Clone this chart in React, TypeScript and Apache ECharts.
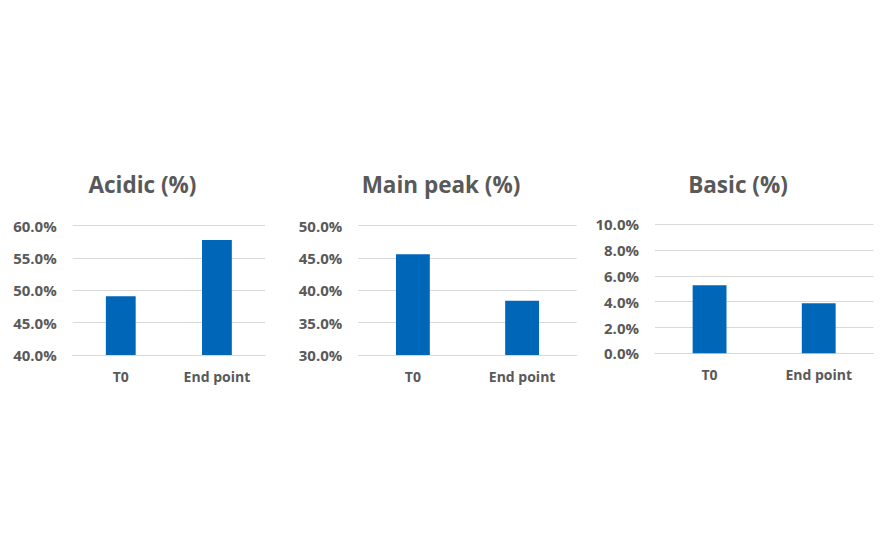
import React, { useEffect, useRef } from "react";
import * as echarts from "echarts";

const categories = ["T0", "End point"];
const acidic = [49.1, 57.8];
const mainPeak = [45.6, 38.4];
const basic = [5.27, 3.88];
const titles = ["Acidic (%)", "Main peak (%)", "Basic (%)"];
const yRanges = [
  { min: 40, max: 60, interval: 5 },
  { min: 30, max: 50, interval: 5 },
  { min: 0, max: 10, interval: 2 },
];

const FONT = "'Open Sans', 'Noto Sans', sans-serif";
const GRAY = "#595959";
const BLUE = "#0066B8";

export default function App() {
  const ref = useRef<HTMLDivElement>(null);
  useEffect(() => {
    if (!ref.current) return;
    const chart = echarts.init(ref.current, undefined, { renderer: "svg" });
    const grids = [
      { left: 72.7, top: 225.7, width: 192.3, height: 129.3 },
      { left: 358.3, top: 225.7, width: 218.4, height: 129.3 },
      { left: 655, top: 224.3, width: 218.3, height: 129 },
    ];
    const titleX = [137.5, 436, 733];
    const data = [acidic, mainPeak, basic];
    chart.setOption({
      animation: false,
      backgroundColor: "#ffffff",
      title: titles.map((t, i) => ({
        text: t,
        left: titleX[i],
        top: 168,
        textAlign: "center",
        textStyle: { fontFamily: FONT, fontSize: 22.5, fontWeight: "bold", color: GRAY },
      })),
      grid: grids.map((g) => ({ ...g, containLabel: false })),
      xAxis: grids.map((_, i) => ({
        type: "category",
        gridIndex: i,
        data: categories,
        axisTick: { show: false },
        axisLine: { show: true, lineStyle: { color: "#d9d9d9", width: 1 } },
        axisLabel: { margin: 14, fontFamily: FONT, fontSize: 14, fontWeight: "bold", color: GRAY },
      })),
      yAxis: grids.map((_, i) => ({
        type: "value",
        gridIndex: i,
        min: yRanges[i].min,
        max: yRanges[i].max,
        interval: yRanges[i].interval,
        axisLine: { show: false },
        axisTick: { show: false },
        splitLine: { lineStyle: { color: "#d9d9d9", width: 1 } },
        axisLabel: {
          margin: 16,
          fontFamily: FONT,
          fontSize: 15,
          fontWeight: "bold",
          color: GRAY,
          formatter: (v: number) => v.toFixed(1) + "%",
        },
      })),
      series: data.map((d, i) => ({
        type: "bar",
        xAxisIndex: i,
        yAxisIndex: i,
        data: d,
        barWidth: "31%",
        itemStyle: { color: BLUE },
      })),
    });
    return () => chart.dispose();
  }, []);
  return (
    <div
      ref={ref}
      style={{ position: "fixed", left: 0, top: 0, width: 895, height: 553, background: "#fff" }}
    />
  );
}
